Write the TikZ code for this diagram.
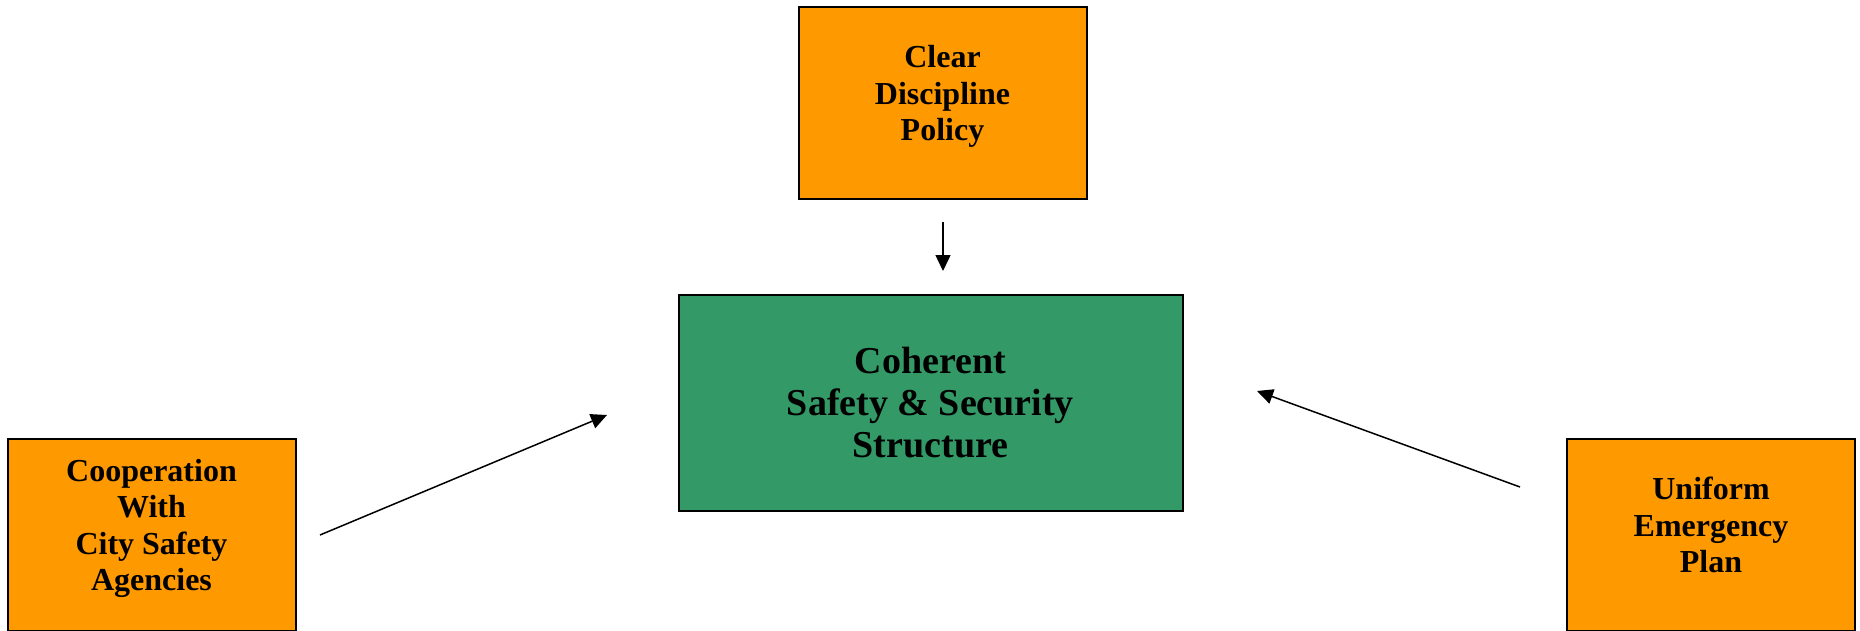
\documentclass[tikz,border=0pt]{standalone}
\usepackage{fontspec}
\setmainfont{Liberation Serif}
\usetikzlibrary{arrows.meta,positioning}
\definecolor{boxorange}{RGB}{255,153,0}
\definecolor{boxgreen}{RGB}{51,153,102}

\begin{document}
\begin{tikzpicture}[
      x=0.5pt, y=-0.5pt,
      factor/.style={draw, line width=1pt, fill=boxorange, inner sep=0pt,
                  minimum width=144pt, minimum height=96pt, text depth=10pt,
                  align=center, font=\fontsize{16}{18.2}\selectfont\bfseries},
      core/.style={draw, line width=1pt, fill=boxgreen, inner sep=0pt,
                  minimum width=252pt, minimum height=108pt,
                  align=center, font=\fontsize{19}{21}\selectfont\bfseries},
      arrow/.style={-{Triangle[length=8pt,width=7.5pt]}, line width=0.75pt}
    ]
    \useasboundingbox (0,0) rectangle (1860,631);
    \node[core] (structure) at (930.5,403) {Coherent\\Safety \& Security\\Structure};
    \node[factor] (discipline) at (942.5,103) {Clear\\Discipline\\Policy};
    \node[factor] (cooperation) at (151.5,535) {Cooperation\\With\\City Safety\\Agencies};
    \node[factor] (emergency) at (1711,535) {Uniform\\Emergency\\Plan};
    % arrow ends
    \coordinate (discipline-out) at (943,222);
    \coordinate (discipline-in) at (943,271);
    \coordinate (cooperation-out) at (320,535);
    \coordinate (cooperation-in) at (607,415);
    \coordinate (emergency-out) at (1520,487);
    \coordinate (emergency-in) at (1257,391);
    \draw[arrow] (discipline-out) -- (discipline-in);
    \draw[arrow] (cooperation-out) -- (cooperation-in);
    \draw[arrow] (emergency-out) -- (emergency-in);
  \end{tikzpicture}
\end{document}
